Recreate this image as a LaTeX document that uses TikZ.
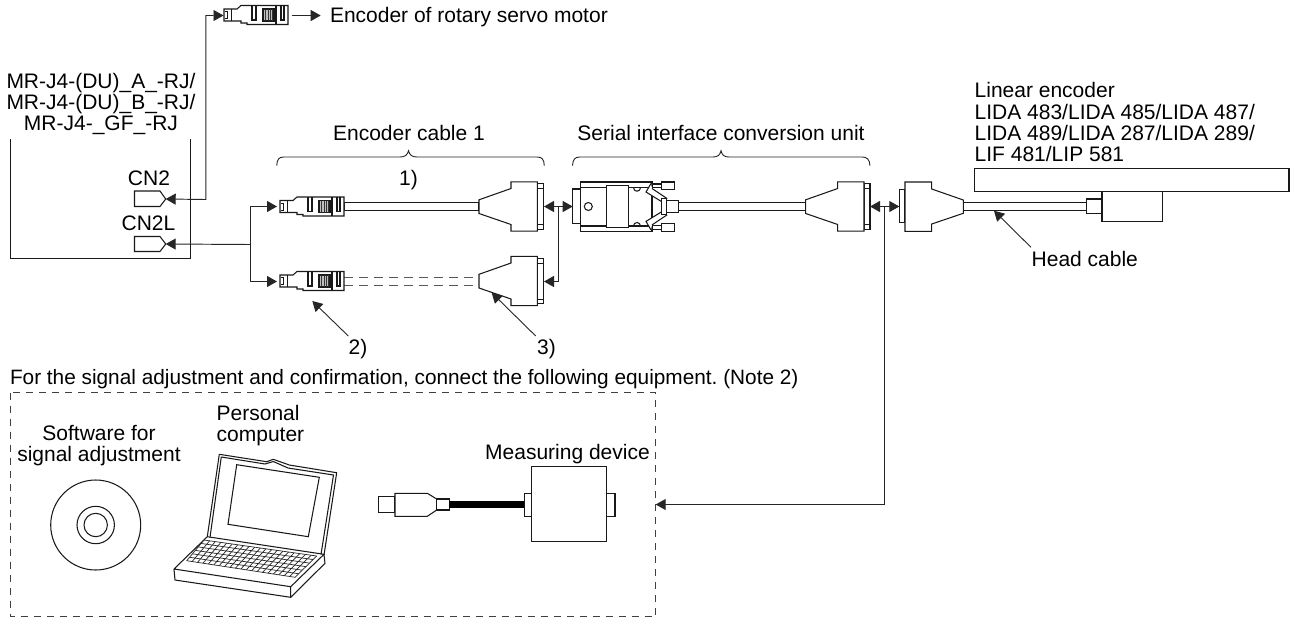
\documentclass[tikz,border=0pt]{standalone}
\usepackage{fontspec}
\setmainfont{Liberation Sans}
\usetikzlibrary{arrows.meta,calc}
\frenchspacing
\tikzset{
  ln/.style={line width=1.05pt,draw=black!90,line join=miter},
  wire/.style={line width=.95pt,draw=black!85},
  endarr/.style={wire,-{Triangle[length=10pt,width=11pt]}},
  bothend/.style={wire,{Triangle[length=10pt,width=11pt]}-{Triangle[length=10pt,width=11pt]}},
  lab/.style={inner sep=0pt,outer sep=0pt,font=\fontsize{21}{21}\selectfont,anchor=base},
  labl/.style={lab,anchor=base west},
  dashbox/.style={line width=.95pt,draw=black!75,dash pattern=on 7pt off 6pt},
  rjplug/.pic={
    \draw[ln,fill=white] (0,-6)--(13,-6)--(17,-9.5)--(64,-9.5)--(64,9.5)--(23,9.5)--(23,8)--(17,8)--(17,6)--(0,6)--cycle;
    \draw[ln,line width=.9pt] (1,-3.5)--(3,-3.5)--(3,3.5)--(1,3.5) (7,-6)--(7,6);
    \draw[ln] (28,-9.5)--(28,5)--(32,5)--(32,-9.5) (57,-9.5)--(57,5)--(60,5)--(60,-9.5) (52,-9.5)--(52,9.5);
    \draw[ln,fill=black!25] (39,-6) rectangle (50,6);
    \foreach \q in {41.5,44,46.5,48.5}{\draw[line width=.6pt,black!80] (\q,-6)--(\q,6);}
  },
  hoodshape/.pic={
    \draw[ln,fill=white] (58.3,-22.7) rectangle (64.3,22.7);
    \draw[ln,line width=.8pt] (58.3,-18) rectangle (64.3,18);
    \draw[ln,fill=white] (0,-6.7)--(32,-18)--(32,-24.7)--(58.3,-24.7)--(58.3,24.7)--(32,24.7)--(32,18)--(0,7)--cycle;
  }
}
\begin{document}
\begin{tikzpicture}[x=1pt,y=-1pt]
\useasboundingbox[fill=white] (0,0) rectangle (1293,619);

% ---- amplifier box
\coordinate (ampTL) at (10.5,139);
\coordinate (ampBL) at (10.5,258.5);
\coordinate (ampBR) at (190.5,258.5);
\coordinate (ampTR) at (190.5,139);
\draw[ln] (ampTL)--(ampBL)--(ampBR)--(ampTR);
\node[lab] (amp1) at (101,88) {MR-J4-(DU)\_A\_-RJ/};
\node[lab] (amp2) at (101,109) {MR-J4-(DU)\_B\_-RJ/};
\node[lab] (amp3) at (101,130.5) {MR-J4-\_GF\_-RJ};
\node[lab] (lcn2) at (149,185.7) {CN2};
\node[lab] (lcn2l) at (148.5,230.7) {CN2L};
\draw[ln,fill=white] (134.5,191)--(160,191)--(165.7,199)--(160,206.5)--(134.5,206.5)--cycle;
\draw[ln,fill=white] (134.5,236.5)--(160,236.5)--(165.7,244)--(160,251.5)--(134.5,251.5)--cycle;
\coordinate (cn2) at (165.7,199);
\coordinate (cn2l) at (165.7,244);

% ---- rotary motor plug
\pic at (224,15) {rjplug};
\coordinate (motin) at (223.5,15.5);
\coordinate (motout) at (291.7,15.5);
\coordinate (motend) at (320.7,15.5);
\coordinate (bendA) at (205.9,199.5);
\draw[bothend] (cn2)--(bendA)|-(motin);
\draw[endarr] (motout)--(motend);
\node[labl] (encrot) at (330,22.5) {Encoder of rotary servo motor};

% ---- encoder cable 1
\node[lab] (lcable1) at (409,140) {Encoder cable 1};
\draw[wire,line width=.9pt] (276.7,165.7) .. controls (277,159) and (279,157) .. (284,157)
  -- (400,157) .. controls (405,157) and (407.5,155) .. (408.5,150.7)
  .. controls (409.5,155) and (412,157) .. (417,157) -- (537,157)
  .. controls (542,157) and (544,159) .. (544.3,165.7);
\node[lab] (lone) at (408.5,185) {1)};

\filldraw[ln,fill=white] (344,202.5) rectangle (479,210.5);
\pic at (280,206.5) {rjplug};
\pic at (479,206.5) {hoodshape};
\draw[ln,draw=black!65,dash pattern=on 9pt off 6pt] (344,277.5)--(479,277.5) (344,285.5)--(479,285.5);
\pic at (280,281) {rjplug};
\pic at (479,281) {hoodshape};

\coordinate (p1in) at (277,206.5);
\coordinate (p2in) at (277,281.5);
\coordinate (split) at (250.5,244.5);
\draw[endarr] (split)|-(p1in);
\draw[endarr] (split)|-(p2in);
\draw[endarr] (split)--(cn2l);

\coordinate (h1r) at (544,206.5);
\coordinate (h2r) at (544,281.5);
\coordinate (convl) at (572.7,206.5);
\coordinate (midj) at (558.9,206.5);
\draw[bothend] (h1r)--(convl);
\draw[endarr] (midj)|-(h2r);

\coordinate (a2s) at (348.3,336);
\coordinate (a2e) at (312.3,301);
\coordinate (a3s) at (535.7,336);
\coordinate (a3e) at (491.7,292.7);
\draw[endarr,line width=.9pt] (a2s)--(a2e);
\draw[endarr,line width=.9pt] (a3s)--(a3e);
\node[lab] (ltwo) at (358,354) {2)};
\node[lab] (lthree) at (546.5,354) {3)};

% ---- serial interface conversion unit
\node[lab] (lconv) at (721,140) {Serial interface conversion unit};
\draw[wire,line width=.9pt] (572.5,165.7) .. controls (573,159) and (575,157) .. (580,157)
  -- (713,157) .. controls (718,157) and (720,155) .. (721,150.7)
  .. controls (722,155) and (724,157) .. (729,157) -- (862,157)
  .. controls (867,157) and (869.5,159) .. (870,165.7);
\draw[ln,fill=white] (572.7,189) rectangle (580.7,223.3);
\draw[ln,fill=white] (580.7,182) rectangle (652,231.3);
\draw[ln] (580.7,187.7)--(606.7,187.7) (580.7,226)--(606.7,226);
\draw[ln] (628.3,187.7)--(650,187.7) (628.3,226)--(650,226);
\draw[ln,fill=white] (588.3,206.5) circle (4);
\draw[ln,fill=white] (606.7,185.3) rectangle (628.3,227.3);
\draw[ln] (633.5,187.7) arc (180:0:3.5) (633.5,226) arc (180:360:3.5);
% screws
\draw[ln,fill=white] (652,184) rectangle (662,187.7);
\draw[ln,fill=white] (661.7,182) rectangle (674.3,189.3);
\draw[ln,fill=white] (652,225.5) rectangle (662,229.5);
\draw[ln,fill=white] (661.7,223.5) rectangle (674.3,231.3);
% back-shell
\draw[ln,fill=white] (652,188.5)--(666.7,198.3)--(661.7,201.7)--(646,192)--(651,183.5);
\draw[ln,fill=white] (652,224.9)--(666.7,215.1)--(661.7,211.7)--(646,221.4)--(651,229.9);
\draw[ln,fill=white] (661.7,198.3) rectangle (666.7,214.3);
\draw[ln,fill=white] (666.7,200.7) rectangle (678.3,212.3);
\filldraw[ln,fill=white] (678.3,202.5) rectangle (805.7,210.5);
\pic at (805.7,206.5) {hoodshape};

\coordinate (h3r) at (870,206.5);
\coordinate (encl) at (899.3,206.5);
\coordinate (vj) at (884.9,206.5);
\coordinate (dashr) at (655.7,504.5);
\draw[bothend] (h3r)--(encl);
\draw[endarr] (vj)|-(dashr);

% ---- linear encoder
\node[labl] (le1) at (974.7,97.7) {Linear encoder};
\node[labl] (le2) at (974.7,119) {LIDA 483/LIDA 485/LIDA 487/};
\node[labl] (le3) at (974.7,140.3) {LIDA 489/LIDA 287/LIDA 289/};
\node[labl] (le4) at (974.7,161.7) {LIF 481/LIP 581};
\filldraw[ln,fill=white] (974.7,168.7) rectangle (1289,191.7);
\filldraw[ln,fill=white] (1102,191.7) rectangle (1162.7,221.7);
\filldraw[ln,fill=white] (1086.7,199) rectangle (1102,213.3);
\filldraw[ln,fill=white] (963.3,202.5) rectangle (1086.7,210.5);
\draw[ln,fill=white] (899.3,189.3) rectangle (905,222.7);
\draw[ln,fill=white] (963.3,200)--(931.7,189)--(931.7,182)--(905,182)--(905,231.3)--(931.7,231.3)--(931.7,224)--(963.3,213.3)--cycle;
\node[labl] (lhead) at (1031.7,266) {Head cable};
\coordinate (hcs) at (1031,247.3);
\coordinate (hce) at (994,210.7);
\draw[endarr,line width=.9pt] (hcs)--(hce);

% ---- dashed equipment box
\node[labl,font=\fontsize{20.8}{21}\selectfont] (lfor) at (10,384) {For the signal adjustment and confirmation, connect the following equipment. (Note 2)};
\draw[dashbox] (10.5,392.5) rectangle (655.5,616.5);
\node[lab] (lsw1) at (99,440.7) {Software for};
\node[lab] (lsw2) at (99,461.7) {signal adjustment};
\draw[ln] (95.7,525) circle (45) circle (18.7) circle (11.7);
\node[labl] (lpc1) at (216.7,420.7) {Personal};
\node[labl] (lpc2) at (216.7,441.7) {computer};

% laptop
\draw[ln,line join=round] (207.3,536.7)--(219.3,454.3)--(266.7,461.7)--(273.3,459.3)--(289.3,465)--(336.7,472.7)--(324,555)
  (210,537.3)--(221.3,457)--(265,464)--(273.3,461.5)--(288,468)--(333.5,475)--(321,554.5);
\draw[ln] (236.7,464.7)--(319.3,477.3)--(308.3,536.7)--(228,524.3)--cycle;
\draw[ln,line join=round] (207.3,536.7)--(324,554.3)--(290.7,586.7)--(174,569)--cycle;
\draw[ln,line join=round] (174,569)--(175,580)--(290.7,597.3)--(290.7,586.7) (290.7,597.3)--(325,563.3)--(324,554.3);
\coordinate (ka) at (204,540);
\coordinate (kb) at (316.7,556);
\coordinate (kc) at (295,577.3);
\coordinate (kd) at (186.7,560.7);
\foreach \t in {0,0.1667,0.3333,0.5,0.6667,0.8333,1}{
  \draw[line width=.7pt,black!85] ($(ka)!\t!(kd)$)--($(kb)!\t!(kc)$);
}
\foreach \t in {0,0.05,...,1.01}{
  \draw[line width=.7pt,black!85] ($(ka)!\t!(kb)$)--($(kd)!\t!(kc)$);
}

% measuring device
\node[lab] (lmeas) at (567.5,459.3) {Measuring device};
\draw[ln,fill=white] (378.3,496.3) rectangle (395,512.3);
\draw[ln,fill=white] (395,493.3)--(427.3,493.3)--(436.7,499)--(436.7,510)--(427.3,516.3)--(395,516.3)--cycle;
\draw[ln,fill=white] (436.7,499) rectangle (449.3,510);
\fill[black] (449.3,501.3) rectangle (524.3,508);
\draw[ln,fill=white] (524.3,493.3) rectangle (531.7,516.3);
\draw[ln,fill=white] (606.7,493.3) rectangle (615,516.3);
\draw[ln,fill=white] (531.7,466.7) rectangle (606.7,541.7);
\end{tikzpicture}
\end{document}
